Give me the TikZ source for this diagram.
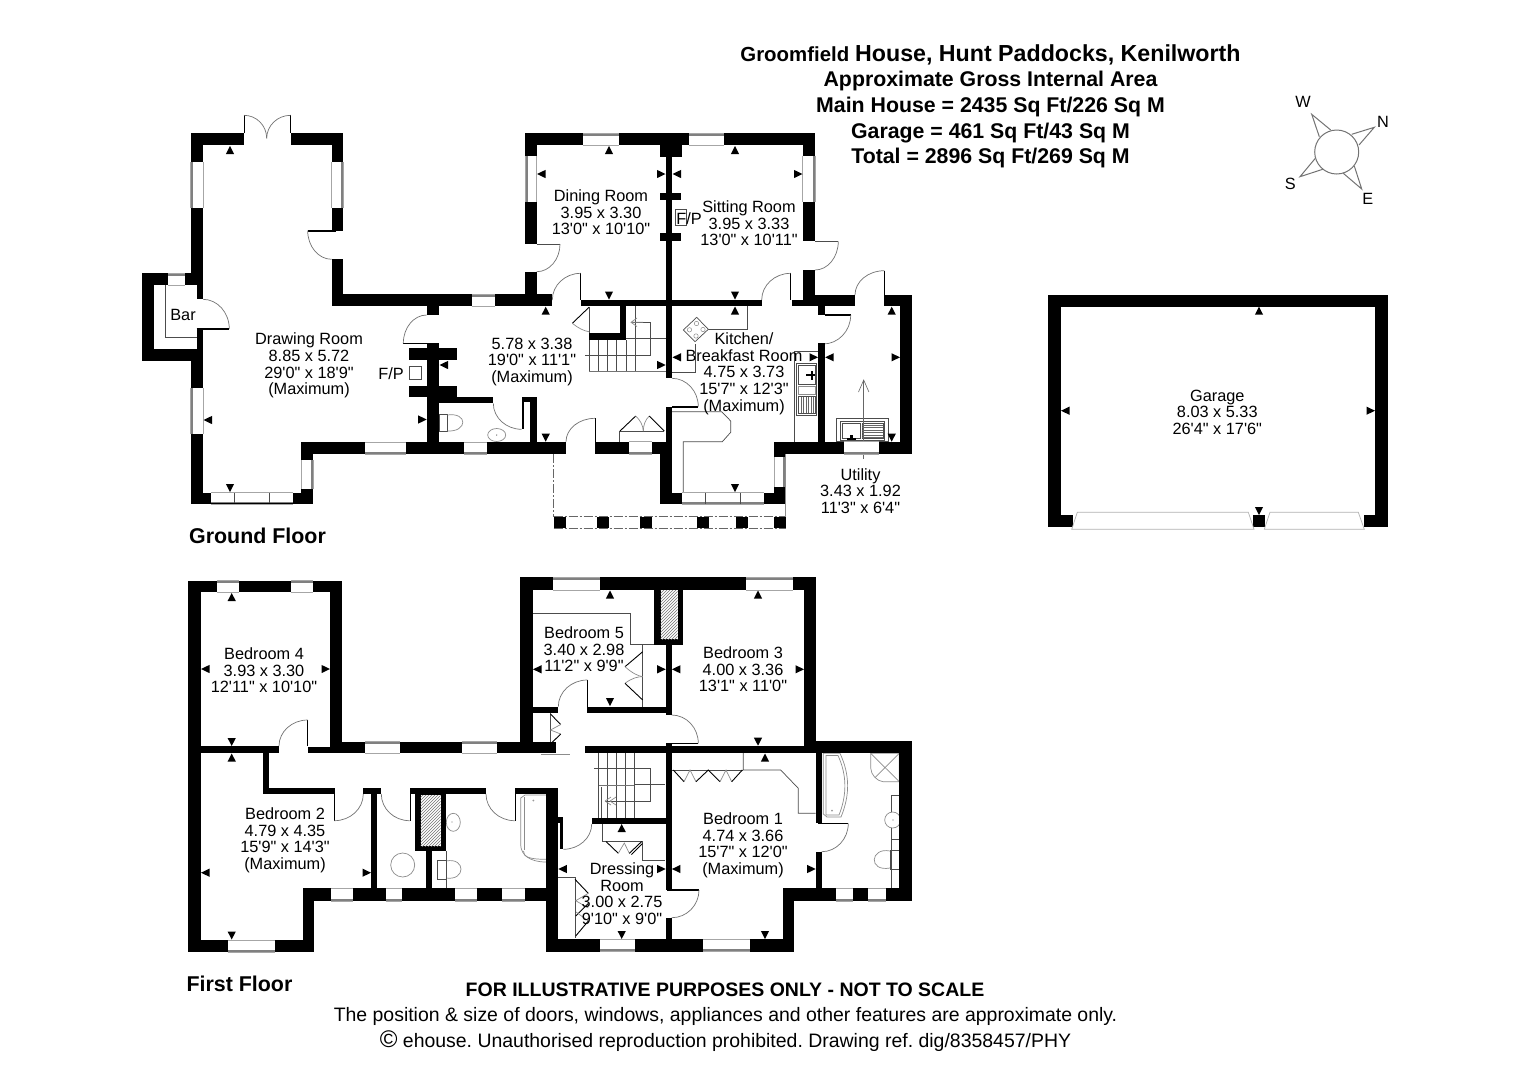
\documentclass[tikz,border=0pt]{standalone}
\usepackage{fontspec}
\setmainfont{Liberation Sans}[Ligatures=TeXOff]
\usetikzlibrary{patterns}
\newcommand{\Wl}[4]{\fill[wallfill] (#1,#2) rectangle (#3,#4);}
\newcommand{\WinH}[5]{\fill[white] (#1,#2) rectangle (#3,#4);\fill[wingray] (#1,#5) rectangle (#3,{#5+2.5});\draw[winline] (#1,#2) -- (#3,#2) (#1,#4) -- (#3,#4);}
\newcommand{\WinV}[5]{\fill[white] (#1,#2) rectangle (#3,#4);\fill[wingray] (#5,#2) rectangle ({#5+2.5},#4);\draw[winline] (#1,#2) -- (#1,#4) (#3,#2) -- (#3,#4);}
\newcommand{\ArcD}[4]{\draw[doorarc] (#1,#2) .. controls ({#1+0.552*(#3-#1)},#2) and (#3,{#4-0.552*(#4-#2)}) .. (#3,#4);}
\newcommand{\MU}[2]{\fill[mark fill] (#1,#2) -- ({#1-4.1},{#2+8}) -- ({#1+4.1},{#2+8}) -- cycle;}
\newcommand{\MD}[2]{\fill[mark fill] (#1,#2) -- ({#1-4.1},{#2-8}) -- ({#1+4.1},{#2-8}) -- cycle;}
\newcommand{\ML}[2]{\fill[mark fill] (#1,#2) -- ({#1+8.5},{#2-4.1}) -- ({#1+8.5},{#2+4.1}) -- cycle;}
\newcommand{\MR}[2]{\fill[mark fill] (#1,#2) -- ({#1-8.5},{#2-4.1}) -- ({#1-8.5},{#2+4.1}) -- cycle;}
\tikzset{
 wallfill/.style={fill=black},
 wingray/.style={fill=black!50},
 winline/.style={draw=black!35,line width=.5pt},
 doorarc/.style={draw=black!55,line width=.7pt},
 leaf/.style={draw=black,line width=1.6pt},
 thin line/.style={draw=black!70,line width=.7pt},
 gray line/.style={draw=black!45,line width=.7pt},
 pale line/.style={draw=black!30,line width=.7pt},
 dark line/.style={draw=black,line width=.9pt},
 mark fill/.style={fill=black},
 lab/.style={align=center,font=\fontsize{16.3}{16.7}\selectfont,inner sep=0pt,yshift=-1.2pt},
 head/.style={align=center,font=\bfseries\fontsize{21.3}{25.6}\selectfont,inner sep=0pt},
 floorname/.style={font=\bfseries\fontsize{21.4}{24}\selectfont,inner sep=0pt},
 foot/.style={inner sep=0pt,font=\frenchspacing\fontsize{19.45}{24}\selectfont},
}
\begin{document}
\begin{tikzpicture}[x=1pt,y=-1pt]
\useasboundingbox (0,0) rectangle (1529,1080);
\fill[white] (0,0) rectangle (1529,1080);

%% ---------- GROUND FLOOR: fittings ----------
% french door + doors
\draw[dark line] (244,115.3) -- (244,133) (290.7,115.3) -- (290.7,133);
\ArcD{244}{115.3}{266.7}{138.3}
\ArcD{290.7}{115.3}{266.7}{138.3}
\draw[leaf] (307.7,230.7) -- (336,230.7);
\ArcD{331.7}{259.3}{307.7}{230.7}
\draw[leaf] (196.7,329) -- (229.3,329);
\ArcD{203}{299.3}{229.3}{329}
\draw[leaf] (403.3,343.3) -- (433,343.3);
\ArcD{426.7}{315}{403.3}{343.3}
\ArcD{521.7}{429.3}{493.3}{403.3}
\draw[thin line] (536.7,244) -- (560,244);
\ArcD{536.7}{271.7}{560}{244}
\draw[thin line] (815,241.3) -- (838.3,241.3);
\ArcD{815}{270}{838.3}{241.3}
\draw[dark line] (580.7,273.3) -- (580.7,300);
\ArcD{580.7}{273.3}{552.3}{300}
\draw[dark line] (790.7,273.3) -- (790.7,300);
\ArcD{790.7}{273.3}{761.7}{300}
\draw[dark line] (884.3,270.7) -- (884.3,295);
\ArcD{884.3}{270.7}{855}{295}
\draw[leaf] (825,315) -- (850.7,315);
\ArcD{823}{344}{850.7}{315}
\draw[leaf] (672,406.7) -- (698.3,406.7);
\ArcD{672}{378.3}{698.3}{406.7}
\draw[dark line] (595,418.3) -- (595,441.7);
\ArcD{595}{418.3}{566}{441.7}
% WC ground
\draw[thin line] (439.3,414.3) rectangle (447.3,431.7);
\draw[gray line] (447.3,415) .. controls (468,412) and (468,432) .. (447.3,431);
\draw[gray line] (496.7,435) ellipse (9 and 6.5);
\fill[black!60] (496.7,435) circle (.7);
% fireplace boxes
\draw[thin line] (409.3,366.7) rectangle (421.7,379.3);
\draw[thin line] (675.7,209) rectangle (686.7,225.7);
% under-stair door and stairs
\draw[thin line] (589,307) -- (589,333);
\draw[dark line] (589,307.3) -- (572.3,323.3);
\draw[gray line] (572.3,323.3) .. controls (578,328) and (584,331) .. (589,331.7);
\foreach \tx in {598.3,607.7,616.7,626}{\draw[thin line] (\tx,340) -- (\tx,371.7);}
\draw[thin line] (635,306) -- (635,371.7);
\draw[thin line] (589,340) -- (589,371.7);
\draw[black!55,line width=1.3pt] (589,371.7) -- (666,371.7);
\draw[thin line] (625.7,338.3) -- (666,338.3);
\draw[thin line] (585,355.3) -- (650,355.3) -- (650,322.3) -- (631,322.3);
\draw[gray line] (637,318) -- (631,322.3) -- (637,326.6) (631,322.3) -- (643,322.3);
% hob
\draw[thin line] (747.3,306) -- (747.3,329.3) -- (708.3,329.3);
\draw[thin line] (695.7,344) -- (695.7,372.3) -- (672,372.3);
\draw[thin line,fill=white] (696.7,317.3) -- (708.3,329.3) -- (695,341.7) -- (683.3,330) -- cycle;
\foreach \hx/\hy in {696.5/323.5, 703/329.5, 696/336, 689.5/329.8}{\draw[gray line,line width=.5pt] (\hx,\hy) circle (2.2);}
% worktops
\draw[thin line] (672,411.7) -- (721.7,411.7) -- (730.7,421) -- (730.7,432.3) -- (722.3,441.7) -- (683.3,441.7) -- (683.3,492.7);
\draw[thin line] (794.7,441.7) -- (794.7,351.7) -- (818,351.7);
% kitchen sink
\draw[thin line,fill=white] (796.7,363.3) rectangle (816.7,415);
\draw[thin line] (798.5,365) rectangle (815,384);
\draw[gray line] (798.5,386) rectangle (815,394);
\draw[thin line] (798.5,396) rectangle (815,413.5);
\foreach \q in {801,803.5,806,808.5,811,813.2}{\draw[black!60,line width=.5pt] (\q,397) -- (\q,412.5);}
\fill[black] (806,374) rectangle (815,376);
\fill[black] (811,371) rectangle (813,380);
% utility sink
\draw[thin line] (836,418.3) rectangle (888.3,441.7);
\draw[thin line] (840,421.7) rectangle (884,440);
\draw[thin line] (842,423) rectangle (860.7,438.5);
\draw[thin line] (862,423) rectangle (883,438.5);
\foreach \q in {425,427.5,430,432.5,435,437}{\draw[black!60,line width=.5pt] (862,\q) -- (883,\q);}
\fill[black] (850,435) rectangle (852.5,440);
\fill[black] (847,438) rectangle (856,440);
% utility arrow
\draw[black!60,line width=.6pt] (863.7,459) -- (863.7,380);
\draw[black!60,line width=.6pt] (858.5,392) -- (863.7,380) -- (868.9,392);
% hall cupboard
\draw[thin line] (619,441.7) -- (619,431) -- (664.3,431);
\draw[dark line] (620,431) -- (635.7,416);
\draw[gray line] (635.7,416) .. controls (640,420) and (643,425) .. (643.3,431);
\draw[gray line] (649.3,416) .. controls (645,420) and (643.5,425) .. (643.3,431);
\draw[dark line] (649.3,416) -- (664.3,431);
% porch
\draw[black!60,line width=.7pt,dash pattern=on 9pt off 2pt on 2pt off 2pt] (553.7,454) -- (553.7,516.7);
\draw[black!60,line width=.7pt,dash pattern=on 9pt off 2pt on 2pt off 2pt] (553.7,516.7) -- (785.7,516.7) (553.7,528.3) -- (785.7,528.3);

%% ---------- GROUND FLOOR: walls ----------
\Wl{190.7}{133.3}{244}{145}
\Wl{290.7}{133.3}{343.3}{145}
\Wl{190.7}{133.3}{203}{299.3}
\Wl{331.7}{133.3}{343.3}{230.7}
\Wl{331.7}{259.3}{343.3}{306}
\Wl{331.7}{294.3}{552.3}{306}
\Wl{426.7}{306}{439.3}{315}
% bar
\Wl{141.7}{273.3}{203}{285.3}
\Wl{141.7}{273.3}{154}{361}
\Wl{141.7}{349.3}{203}{361}
\Wl{196.7}{273.3}{203}{299.3}
\Wl{196.7}{328.3}{203}{361}
\Wl{190.7}{361}{203}{504.3}
\fill[white] (190,285.3) rectangle (196.7,349.3);
\fill[white] (196.5,299.3) rectangle (203.2,328.3);
\draw[leaf] (196.7,329) -- (229.3,329);
\draw[thin line] (165.7,285.3) -- (165.7,337.3) -- (196.7,337.3);
% drawing room bottom
\Wl{190.7}{492.7}{313.3}{504.3}
\Wl{301}{442}{313.3}{504.3}
\Wl{301}{442}{566}{454}
% fireplace / partition
\Wl{426.7}{343.3}{439.3}{442}
\Wl{409.3}{348.3}{457.3}{360}
\Wl{409.3}{385.7}{457.3}{397.3}
\Wl{439.3}{397.3}{493.3}{403.3}
\Wl{521.7}{397.3}{536.7}{401.7}
\Wl{521.7}{397.3}{524}{429.3}
\Wl{530}{397.3}{536.7}{442}
% dining / sitting
\Wl{525}{133.3}{815}{145}
\Wl{525}{133.3}{536.7}{243.5}
\Wl{525}{272.3}{536.7}{306}
\Wl{660}{145}{681.7}{156.7}
\Wl{666}{145}{672}{378.3}
\Wl{660}{192.7}{681}{200}
\Wl{660}{233.3}{681}{241.3}
\Wl{802.7}{133.3}{815}{241.3}
\Wl{802.7}{270}{815}{306}
\Wl{580.7}{300}{761.7}{306}
\Wl{791.7}{300}{855}{306}
\Wl{802.7}{295}{855}{306}
\Wl{818.3}{306}{825}{315}
\Wl{818.3}{343.3}{825}{441.7}
\Wl{884.3}{295}{911.7}{306}
\Wl{900}{295}{911.7}{454}
\Wl{774.3}{441.7}{911.7}{454}
% stairs walls
\Wl{589}{333.3}{625.7}{340}
\Wl{620}{306}{625.7}{340}
% kitchen
\Wl{666}{406.7}{672}{503}
\Wl{595}{441.7}{672}{454}
\Wl{660}{454}{672}{504}
\Wl{660}{492.7}{785.7}{504}
\Wl{774.3}{441.7}{785.7}{504}
% porch posts
\foreach \pa/\pb in {553.7/565.7,596.7/609,640/652.3,697.3/709.3,735.7/748,774/785.7}{\Wl{\pa}{516.7}{\pb}{528.3}}

%% ---------- GROUND FLOOR: windows ----------
\WinV{190.7}{162.3}{203}{208.3}{190.7}
\WinV{331.7}{162.3}{343.3}{208.3}{340.8}
\WinV{190.7}{388.3}{203}{434.3}{190.7}
\WinH{168.3}{273.3}{185}{285.3}{273.3}
\WinH{471.7}{294.3}{495}{306}{294.3}
\WinH{211}{492.7}{293.3}{504.3}{502}
\draw[thin line] (234.7,492.7) -- (234.7,504.3) (269.3,492.7) -- (269.3,504.3);
\draw[dark line] (211,503) -- (293.3,503);
\WinV{301}{460}{313.3}{489.3}{310.8}
\WinH{365}{442}{405.7}{454}{451.5}
\WinH{464}{442}{487.3}{454}{451.5}
\WinV{525}{156}{536.7}{202.3}{525}
\WinH{583.3}{133.3}{619}{145}{133.3}
\WinH{689.3}{133.3}{724}{145}{133.3}
\WinV{802.7}{155.7}{815}{202.3}{812.5}
\WinH{844}{441.7}{879.3}{454}{451.5}
\WinH{629.3}{441.7}{652.3}{454}{451.5}
\WinH{681.7}{492.7}{764.3}{504}{501.5}
\draw[thin line] (705,492.7) -- (705,504) (740.7,492.7) -- (740.7,504);
\WinV{774.3}{457.3}{785.7}{486.7}{783.2}
\draw[black!45,line width=.7pt] (785.7,454) -- (785.7,516.7);

%% ---------- GROUND FLOOR: markers ----------
\MU{230}{146} \ML{203.5}{420} \MR{426.7}{419.5} \MD{230}{492}
\ML{537}{174} \MR{665.5}{174} \MU{609}{146} \MD{609}{299.5}
\ML{672.5}{174} \MR{802.5}{174} \MU{735}{146} \MD{735}{299.5}
\MU{735}{306.5} \ML{672.5}{357.3} \MR{818}{357.3} \MD{735}{492}
\MU{545.7}{306.7} \MD{545.7}{441.7} \MR{665.7}{365} \ML{439.5}{365}
\ML{825.2}{357.3} \MR{900}{357.3} \MU{891.7}{306.7} \MD{891.7}{441.7}

%% ---------- GARAGE ----------
\Wl{1048.3}{295}{1387.7}{306.7}
\Wl{1048.3}{295}{1060.7}{526.7}
\Wl{1375.3}{295}{1387.7}{526.7}
\Wl{1048.3}{515}{1072.7}{526.7}
\Wl{1364}{515}{1387.7}{526.7}
\Wl{1253.3}{515}{1265}{526.7}
\draw[pale line] (1071.7,529.3) -- (1077.3,512.3) -- (1248.3,512.3) -- (1254,529.3) -- cycle;
\draw[pale line] (1264.3,529.3) -- (1270,512.3) -- (1358.3,512.3) -- (1364.3,529.3) -- cycle;
\MU{1259}{306.7} \ML{1061}{410.7} \MR{1375}{410.7} \MD{1259}{515}

%% ---------- COMPASS ----------
\begin{scope}[black!55,line width=1pt]
\draw (1336.7,152) circle (22);
\draw (1319.3,136.7) -- (1311.7,114.3) -- (1330.7,130);
\draw (1351.7,134.3) -- (1374.3,127.3) -- (1359,145);
\draw (1354.3,166) -- (1361.7,189) -- (1343.3,173.3);
\draw (1315.3,158.3) -- (1300,176.7) -- (1322.7,169.3);
\end{scope}
\node[lab] (cW) at (1303,101) {W};
\node[lab] (cN) at (1383,121) {N};
\node[lab] (cS) at (1290.3,182.7) {S};
\node[lab] (cE) at (1367.7,197.7) {E};

%% ---------- FIRST FLOOR: fittings ----------
\draw[dark line] (307.7,720) -- (307.7,746);
\ArcD{307.7}{720}{279}{746}
\draw[dark line] (334.3,788) -- (334.3,820.7);
\ArcD{334.3}{820.7}{363.3}{794}
\draw[dark line] (410,794) -- (410,820.7);
\ArcD{409.7}{820.7}{381.3}{794}
\draw[dark line] (515,794) -- (515,820.7);
\ArcD{514.7}{820.7}{486}{794}
\draw[dark line] (587.3,680) -- (587.3,706.7);
\ArcD{587.3}{680}{558.3}{706.7}
\draw[leaf] (667,743.3) -- (698.3,743.3);
\ArcD{671.7}{715}{698.3}{743.3}
\ArcD{563.3}{849.3}{591.7}{824}
\draw[leaf] (667,890) -- (699,890);
\ArcD{671.7}{917.7}{699}{890}
\draw[leaf] (818,823.3) -- (848.3,823.3);
\ArcD{821.7}{851.7}{848.3}{823.3}
% bath 1
\draw[gray line] (523.5,851) .. controls (523,857) and (530,859.3) .. (546,859.3);
\draw[gray line] (546,795) -- (525,795) -- (520.7,798) -- (520.7,845) .. controls (521,855) and (530,862) .. (546,862);
\draw[gray line] (524,797) -- (524,850);
\fill[black!40] (533.3,800.5) circle (1);
% fixtures bath 1
\draw[gray line] (402.7,865) circle (12);
\draw[gray line] (453.3,822.3) ellipse (7 and 9);
\fill[black!50] (452,822) circle (.7);
\draw[thin line] (437.7,860.7) rectangle (446,879.3);
\draw[gray line] (446,861) .. controls (466,857) and (466,881) .. (446,878);
\draw[thin line] (446,851) -- (446,888);
% bed 5
\draw[thin line] (532.7,613.3) -- (630.7,613.3) -- (630.7,644.3) -- (654,644.3);
\draw[thin line] (642.7,644.3) -- (642.7,706.7);
\draw[dark line] (642.7,651.7) -- (625,666.7);
\draw[gray line] (625,666.7) .. controls (632,673) and (638,676) .. (642.7,676.7);
\draw[gray line] (625,683.3) .. controls (632,678) and (638,676.5) .. (642.7,676.7);
\draw[dark line] (625,683.3) -- (642.7,700);
% landing cupboard
\draw[thin line] (550,713) -- (550,745);
\draw[dark line] (550.5,714) -- (560.7,724.5);
\draw[gray line] (560.7,724.5) -- (550.5,730) -- (560.7,734);
\draw[dark line] (560.7,734) -- (550.5,744);
\draw[gray line] (541,754.3) -- (570,754.3);
% first-floor stairs
\foreach \tx in {598.3,607.3,616.7,625.7,634.3}{\draw[thin line] (\tx,752.7) -- (\tx,818.3);}
\draw[thin line] (594,768.3) -- (650,768.3) -- (650,801) -- (605,801);
\draw[thin line] (634.3,784.3) -- (665,784.3);
\draw[black!55,line width=1.2pt] (598.3,785.5) -- (634.3,785.5);
\draw[thin line] (598.3,784) -- (598.3,818.3);
\draw[thin line] (601,787) -- (601,818);
\draw[gray line] (605,801) -- (611,797) (605,801) -- (611,805) (610,801) -- (616,797) (610,801) -- (616,805);
% dressing room cupboards
\draw[thin line] (602.7,823.3) -- (602.7,841) -- (642.7,841) -- (642.7,860) -- (665,860);
\draw[dark line] (606,841.5) -- (618.3,853.3);
\draw[gray line] (618.3,853.3) -- (624.3,843) -- (629.3,853.3);
\draw[dark line] (629.3,853.3) -- (641.7,841.5);
\draw[dark line] (631.5,854.5) -- (642.5,843.5);
\draw[thin line] (558.3,877.3) -- (575,877.3) -- (575,938);
\draw[dark line] (575,879.3) -- (588.3,893.3);
\draw[gray line] (588.3,893.3) -- (575.7,900.7) -- (588.3,908);
\draw[dark line] (575.7,916) -- (588.3,903.5);
\draw[gray line] (588.3,921) -- (576,912) ;
\draw[dark line] (575.7,936) -- (588.3,921);
% bedroom 1 fittings
\draw[thin line] (743.3,752.7) -- (743.3,770) -- (780.7,770) -- (798.3,788.3) -- (798.3,813.3) -- (815.7,813.3);
\draw[thin line] (671.7,770) -- (743.3,770);
\draw[dark line] (673.3,770) -- (684,781.7);
\draw[gray line] (684,781.7) -- (690,770) -- (696,781.7);
\draw[dark line] (696,781.7) -- (708.3,770) -- (720,781.7);
\draw[gray line] (720,781.7) -- (726,770) -- (731.7,781.7);
\draw[dark line] (731.7,781.7) -- (742.3,770);
% ensuite
\draw[gray line] (823.3,753.3) -- (840,753.3) .. controls (850,775) and (850,795) .. (841,817) -- (827,817) -- (823.3,814) -- cycle;
\draw[gray line] (826,755.5) -- (838,755.5) .. controls (847,775) and (847,795) .. (839,815) -- (826,815) -- cycle;
\fill[black!40] (832,810.5) circle (1);
\draw[gray line] (870.7,753.3) -- (899.3,753.3) -- (899.3,781.7) -- (883,781.7) .. controls (877,781) and (871,775) .. (870.7,768) -- cycle;
\draw[gray line] (870.7,753.3) -- (899.3,781.7) (899.3,753.3) -- (875,777.5);
\draw[thin line] (899.3,795) -- (891,795) -- (891,888);
\draw[gray line,fill=white] (892.7,820) ellipse (8 and 8);
\fill[black!60] (893,820) circle (.7);
\draw[thin line] (890,850.7) rectangle (899.3,869);
\draw[gray line] (890,851) .. controls (870,847) and (868,872) .. (890,868);
\draw[thin line] (891,869) -- (899.3,869) (891,839) -- (899.3,839);

%% ---------- FIRST FLOOR: walls ----------
\Wl{188.3}{580.7}{341.7}{592.3}
\Wl{188.3}{580.7}{200.7}{952.3}
\Wl{330}{580.7}{341.7}{753}
\Wl{188.3}{746}{279}{753.3}
\Wl{308.3}{746.7}{335}{752.7}
\Wl{330}{741.7}{556}{753}
\Wl{263.3}{753}{269.3}{794}
\Wl{263.3}{788.3}{334.3}{794.3}
\Wl{363.3}{788.3}{381.3}{794.3}
\Wl{371}{794}{377}{888.5}
\Wl{410}{788.3}{486}{794.3}
\fill[black] (415,794) rectangle (446,851);
\fill[white] (420.7,795) rectangle (440.7,846);
\fill[pattern=north east lines,pattern color=black!55] (420.7,795) rectangle (440.7,846);
\Wl{426}{851}{432.3}{888.5}
\Wl{515}{788.3}{558.3}{794.3}
\Wl{546}{788.3}{558.3}{951.7}
\Wl{546}{816.7}{563.3}{823}
\Wl{560}{818.3}{563.3}{849}
\Wl{592.3}{818.3}{666.7}{824}
\Wl{188.3}{940}{314.3}{952.3}
\Wl{302.7}{888.3}{314.3}{952.3}
\Wl{302.7}{888.3}{558}{901}
\Wl{520}{577.3}{815.7}{590}
\Wl{520}{577.3}{532.7}{741.7}
\Wl{654}{590}{683.3}{645}
\fill[white] (660.7,590) rectangle (677.7,639);
\fill[pattern=north east lines,pattern color=black!55] (660.7,590) rectangle (677.7,639);
\Wl{665.7}{645}{671.7}{715}
\Wl{532.7}{706.7}{558.3}{712.7}
\Wl{587.3}{706.7}{671.7}{712.7}
\Wl{804}{577.3}{815.7}{752}
\Wl{585}{746}{911.7}{752.7}
\Wl{804}{740.7}{911.7}{752.7}
\Wl{532}{746}{555.7}{752.7}
\Wl{665.7}{743.3}{671.7}{890}
\Wl{665.7}{917.7}{671.7}{940}
\Wl{899.3}{740.7}{911.7}{901}
\Wl{782.7}{888.3}{911.7}{901}
\Wl{782.7}{888.3}{794}{951.7}
\Wl{546}{939.3}{794}{951.7}
\Wl{815.7}{752.7}{821.7}{823.3}
\Wl{815.7}{851.7}{821.7}{888.5}

%% ---------- FIRST FLOOR: windows ----------
\WinH{217.3}{580.7}{239.3}{592.3}{580.7}
\WinH{290.7}{580.7}{312.7}{592.3}{580.7}
\WinH{365}{741.7}{400}{753}{741.7}
\WinH{461.7}{741.7}{496.7}{753}{741.7}
\WinH{331}{888.3}{353.3}{901}{898.5}
\WinH{385.7}{888.3}{402.3}{901}{898.5}
\WinH{455}{888.3}{476.7}{901}{898.5}
\WinH{501.7}{888.3}{525}{901}{898.5}
\WinH{227.7}{940}{275}{952.3}{950}
\WinH{553.3}{577.3}{600}{590}{577.3}
\WinH{746}{577.3}{793.3}{590}{577.3}
\WinH{835.7}{888.3}{852.7}{901}{898.5}
\WinH{868.3}{888.3}{886}{901}{898.5}
\WinH{600}{939.3}{635}{951.7}{949.2}
\WinH{703.3}{939.3}{750}{951.7}{949.2}

%% ---------- FIRST FLOOR: markers ----------
\MU{231.7}{593} \ML{201}{669} \MR{330}{669} \MD{231.7}{746}
\MU{231.7}{753.5} \ML{201}{872.7} \MR{371}{872.7} \MD{231.7}{939.5}
\MU{610}{590.5} \ML{533}{669.3} \MR{665.7}{669.3} \MD{610}{706}
\ML{671.9}{669.3} \MU{758}{590.5} \MR{804}{669.3} \MD{758}{745.7}
\MU{765}{753.5} \ML{671.9}{869} \MR{815.7}{869} \MD{765}{939}
\MU{621.7}{824} \ML{558.3}{869} \MR{665.7}{869} \MD{621.7}{939}

%% ---------- TEXT ----------
\node[lab] (bar) at (183,314) {Bar};
\node[lab] (fp1) at (391,372.7) {F/P};
\node[lab] (fp2) at (689,217.3) {F/P};
\node[lab] (drawing) at (309,364.3) {Drawing Room\\8.85 x 5.72\\29'0" x 18'9"\\(Maximum)};
\node[lab] (hall) at (532,360.5) {5.78 x 3.38\\19'0" x 11'1"\\(Maximum)};
\node[lab] (dining) at (601,211) {Dining Room\\3.95 x 3.30\\13'0" x 10'10"};
\node[lab] (sitting) at (749,222) {Sitting Room\\3.95 x 3.33\\13'0" x 10'11"};
\node[lab] (kitchen) at (744,372.3) {Kitchen/\\Breakfast Room\\4.75 x 3.73\\15'7" x 12'3"\\(Maximum)};
\node[lab] (utility) at (860.5,489.7) {Utility\\3.43 x 1.92\\11'3" x 6'4"};
\node[lab] (garage) at (1217.3,411) {Garage\\8.03 x 5.33\\26'4" x 17'6"};
\node[lab] (bed4) at (264,669) {Bedroom 4\\3.93 x 3.30\\12'11" x 10'10"};
\node[lab] (bed2) at (285,839) {Bedroom 2\\4.79 x 4.35\\15'9" x 14'3"\\(Maximum)};
\node[lab] (bed5) at (584,648) {Bedroom 5\\3.40 x 2.98\\11'2" x 9'9"};
\node[lab] (bed3) at (743,668) {Bedroom 3\\4.00 x 3.36\\13'1" x 11'0"};
\node[lab] (bed1) at (743,844) {Bedroom 1\\4.74 x 3.66\\15'7" x 12'0"\\(Maximum)};
\node[lab] (dress) at (622,892.5) {Dressing\\Room\\3.00 x 2.75\\9'10" x 9'0"};
\node[floorname] (gf) at (257.5,536.3) {Ground Floor};
\node[floorname] (ff) at (239.5,984.3) {First Floor};
\node[head] (title) at (990.5,106.3) {{\fontsize{20.4}{25.6}\selectfont Groomfield} {\fontsize{23.2}{25.6}\selectfont House, Hunt Paddocks, Kenilworth}\\Approximate Gross Internal Area\\Main House = 2435 Sq Ft/226 Sq M\\Garage = 461 Sq Ft/43 Sq M\\Total = 2896 Sq Ft/269 Sq M};
\node[inner sep=0pt,font=\bfseries\fontsize{19.5}{24}\selectfont] (f1) at (725,989.5) {FOR ILLUSTRATIVE PURPOSES ONLY - NOT TO SCALE};
\node[foot] (f2) at (725.5,1016) {The position \& size of doors, windows, appliances and other features are approximate only.};
\node[foot] (f3) at (725.5,1041.5) {{\fontsize{24}{24}\selectfont ©} ehouse. Unauthorised reproduction prohibited. Drawing ref. dig/8358457/PHY};
\end{tikzpicture}
\end{document}
